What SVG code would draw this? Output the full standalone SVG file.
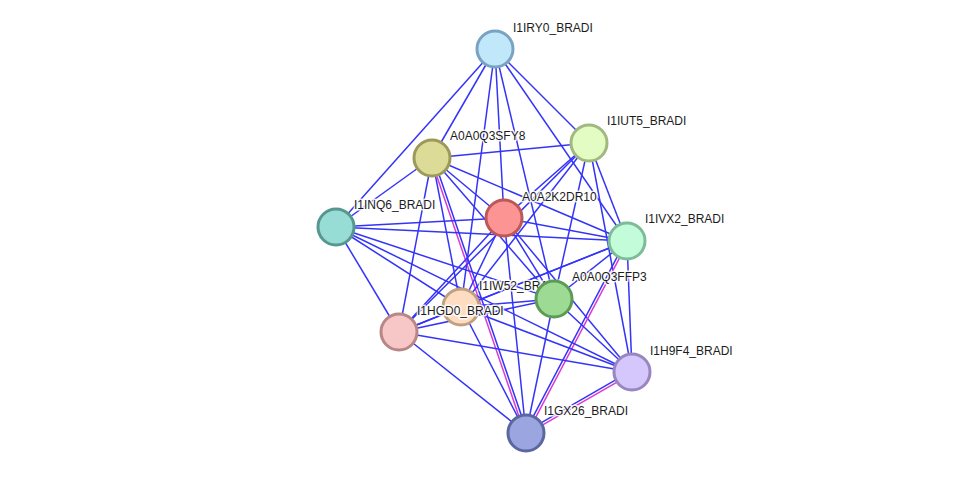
<svg xmlns="http://www.w3.org/2000/svg" width="975" height="478" viewBox="0 0 975 478">
<style>
.e{stroke:#3434f8;stroke-width:1.5;fill:none}
.m{stroke:#d83ad8;stroke-width:1.5;fill:none}
.n{stroke-width:3}
.t{font-family:"Liberation Sans",Arial,sans-serif;font-size:12px;fill:#1c1c1c;stroke:#ffffff;stroke-width:3;stroke-opacity:0.85;paint-order:stroke;stroke-linejoin:round}
</style>
<rect width="975" height="478" fill="#ffffff"/>
<g id="edges">
<line class="e" x1="495" y1="49" x2="336" y2="227"/>
<line class="e" x1="495" y1="49" x2="432" y2="158"/>
<line class="e" x1="495" y1="49" x2="461" y2="307"/>
<line class="e" x1="495" y1="49" x2="504" y2="218"/>
<line class="e" x1="495" y1="49" x2="554" y2="299"/>
<line class="e" x1="495" y1="49" x2="589" y2="143"/>
<line class="e" x1="495" y1="49" x2="627" y2="241"/>
<line class="e" x1="432" y1="158" x2="589" y2="143"/>
<line class="e" x1="432" y1="158" x2="336" y2="227"/>
<line class="e" x1="432" y1="158" x2="504" y2="218"/>
<line class="e" x1="432" y1="158" x2="627" y2="241"/>
<line class="e" x1="432" y1="158" x2="554" y2="299"/>
<line class="e" x1="432" y1="158" x2="461" y2="307"/>
<line class="e" x1="432" y1="158" x2="399" y2="332"/>
<line class="e" x1="433.23" y1="157.58" x2="527.23" y2="432.58"/>
<line class="m" x1="430.77" y1="158.42" x2="524.77" y2="433.42"/>
<line class="e" x1="504" y1="218" x2="336" y2="227"/>
<line class="e" x1="504" y1="218" x2="589" y2="143"/>
<line class="e" x1="504" y1="218" x2="627" y2="241"/>
<line class="e" x1="504" y1="218" x2="554" y2="299"/>
<line class="e" x1="504" y1="218" x2="461" y2="307"/>
<line class="e" x1="504" y1="218" x2="399" y2="332"/>
<line class="e" x1="504" y1="218" x2="526" y2="433"/>
<line class="e" x1="504" y1="218" x2="632" y2="372"/>
<line class="e" x1="589" y1="143" x2="627" y2="241"/>
<line class="e" x1="589" y1="143" x2="632" y2="372"/>
<line class="e" x1="589" y1="143" x2="554" y2="299"/>
<line class="e" x1="589" y1="143" x2="461" y2="307"/>
<line class="e" x1="589" y1="143" x2="399" y2="332"/>
<line class="e" x1="627" y1="241" x2="336" y2="227"/>
<line class="e" x1="627" y1="241" x2="554" y2="299"/>
<line class="e" x1="627" y1="241" x2="461" y2="307"/>
<line class="e" x1="627" y1="241" x2="399" y2="332"/>
<line class="e" x1="627" y1="241" x2="632" y2="372"/>
<line class="e" x1="625.85" y1="240.39" x2="524.85" y2="432.39"/>
<line class="m" x1="628.15" y1="241.61" x2="527.15" y2="433.61"/>
<line class="e" x1="554" y1="299" x2="461" y2="307"/>
<line class="e" x1="554" y1="299" x2="399" y2="332"/>
<line class="e" x1="554" y1="299" x2="632" y2="372"/>
<line class="e" x1="554" y1="299" x2="526" y2="433"/>
<line class="e" x1="554" y1="299" x2="336" y2="227"/>
<line class="e" x1="336" y1="227" x2="461" y2="307"/>
<line class="e" x1="336" y1="227" x2="399" y2="332"/>
<line class="e" x1="336" y1="227" x2="632" y2="372"/>
<line class="e" x1="461" y1="307" x2="399" y2="332"/>
<line class="e" x1="461" y1="307" x2="526" y2="433"/>
<line class="e" x1="461" y1="307" x2="632" y2="372"/>
<line class="e" x1="399" y1="332" x2="526" y2="433"/>
<line class="e" x1="399" y1="332" x2="632" y2="372"/>
<line class="e" x1="631.35" y1="370.87" x2="525.35" y2="431.87"/>
<line class="m" x1="632.65" y1="373.13" x2="526.65" y2="434.13"/>
</g>
<g id="I1IRY0_BRADI"><circle class="n" cx="495" cy="49" r="18" fill="#c1e7fb" stroke="#7aa3c1"/><text class="t" x="513" y="32">I1IRY0_BRADI</text></g>
<g id="I1IUT5_BRADI"><circle class="n" cx="589" cy="143" r="18" fill="#e2fcc3" stroke="#a1b97f"/><text class="t" x="607" y="125">I1IUT5_BRADI</text></g>
<g id="A0A0Q3SFY8"><circle class="n" cx="432" cy="158" r="18" fill="#dcdb98" stroke="#9c9a56"/><text class="t" x="450" y="140">A0A0Q3SFY8</text></g>
<g id="A0A2K2DR10"><circle class="n" cx="504" cy="218" r="18" fill="#fd9494" stroke="#bc5858"/><text class="t" x="522" y="201">A0A2K2DR10</text></g>
<g id="I1INQ6_BRADI"><circle class="n" cx="336" cy="227" r="18" fill="#97ddd5" stroke="#56988f"/><text class="t" x="354" y="209">I1INQ6_BRADI</text></g>
<g id="I1IVX2_BRADI"><circle class="n" cx="627" cy="241" r="18" fill="#c3fcd9" stroke="#7cbc98"/><text class="t" x="645" y="223">I1IVX2_BRADI</text></g>
<g id="I1IW52_BRADI"><circle class="n" cx="461" cy="307" r="18" fill="#fddcc2" stroke="#c0a080"/><text class="t" x="479" y="290">I1IW52_BRADI</text></g>
<g id="I1HGD0_BRADI"><circle class="n" cx="399" cy="332" r="18" fill="#f6c7c6" stroke="#b88686"/><text class="t" x="417" y="315">I1HGD0_BRADI</text></g>
<g id="A0A0Q3FFP3"><circle class="n" cx="554" cy="299" r="18" fill="#9ddb94" stroke="#5c9a55"/><text class="t" x="572" y="281">A0A0Q3FFP3</text></g>
<g id="I1H9F4_BRADI"><circle class="n" cx="632" cy="372" r="18" fill="#d5c6fb" stroke="#9886c0"/><text class="t" x="650" y="355">I1H9F4_BRADI</text></g>
<g id="I1GX26_BRADI"><circle class="n" cx="526" cy="433" r="18" fill="#9ba6e0" stroke="#5a67a0"/><text class="t" x="544" y="415">I1GX26_BRADI</text></g>
</svg>
